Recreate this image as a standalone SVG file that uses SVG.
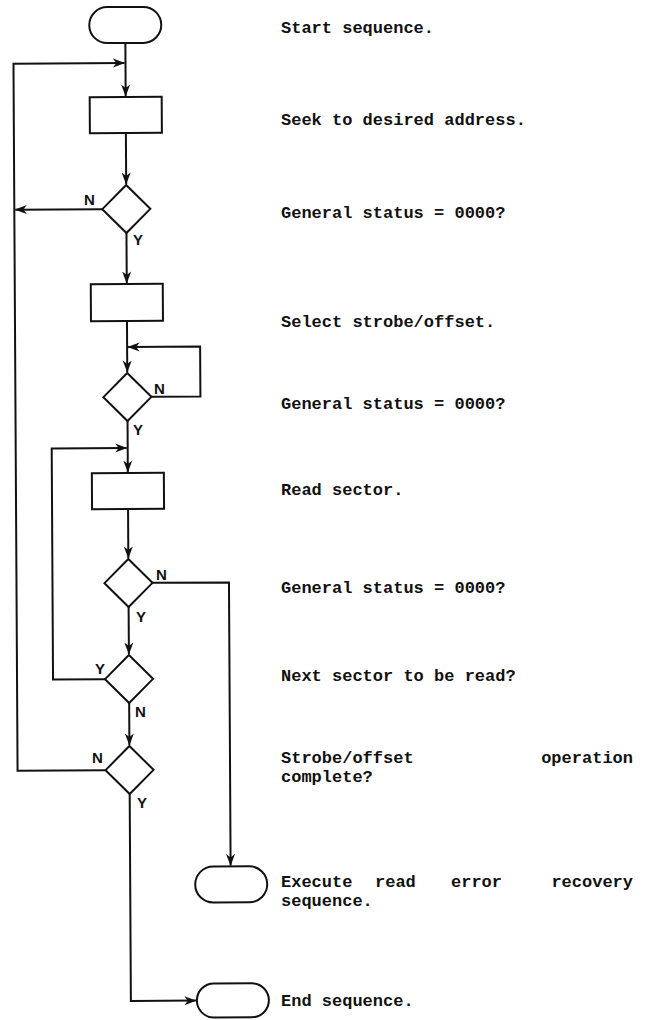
<svg xmlns="http://www.w3.org/2000/svg" width="646" height="1020" viewBox="0 0 646 1020">
<style>
.shape{fill:#fff;stroke:#111;stroke-width:2}
.conn{fill:none;stroke:#111;stroke-width:2}
.desc{font-family:"Liberation Mono","DejaVu Sans Mono",monospace;font-size:17px;font-weight:bold;fill:#111}
.lbl{font-family:"Liberation Sans",Arial,sans-serif;font-size:15px;font-weight:bold;fill:#111}
</style>
<defs>
<marker id="arr" viewBox="0 0 12 10" refX="11.5" refY="5" markerWidth="12" markerHeight="10" markerUnits="userSpaceOnUse" orient="auto">
<path d="M0,0.5 L12,5 L0,9.5 L3.5,5 z" fill="#111"/>
</marker>
</defs>
<rect width="646" height="1020" fill="#fff"/>
<g transform="rotate(-0.33 128 500)">
<g id="connectors" class="conn">
<path d="M128,43 V96" marker-end="url(#arr)"/>
<path d="M128,133 V184" marker-end="url(#arr)"/>
<path d="M104,209 H17" marker-end="url(#arr)"/>
<path d="M128,233 V283" marker-end="url(#arr)"/>
<path d="M128,321 V372" marker-end="url(#arr)"/>
<path d="M152,397 H201 V347 H129" marker-end="url(#arr)"/>
<path d="M128,421 V472" marker-end="url(#arr)"/>
<path d="M128,509 V558" marker-end="url(#arr)"/>
<path d="M152,583 H228.5 V866" marker-end="url(#arr)"/>
<path d="M128,607 V654" marker-end="url(#arr)"/>
<path d="M104,679 H52 V448 H127" marker-end="url(#arr)"/>
<path d="M128,703 V745" marker-end="url(#arr)"/>
<path d="M104,770 H16 V63 H127" marker-end="url(#arr)"/>
<path d="M128,794 V1001 H193" marker-end="url(#arr)"/>
</g>
<g id="start"><rect class="shape" x="92" y="7" width="72" height="36" rx="18"/></g>
<g id="seek"><rect class="shape" x="92" y="97" width="72" height="36"/></g>
<g id="status1"><path class="shape" d="M128,185 L152,209 L128,233 L104,209 Z"/></g>
<g id="select"><rect class="shape" x="92" y="284" width="72" height="37"/></g>
<g id="status2"><path class="shape" d="M128,373 L152,397 L128,421 L104,397 Z"/></g>
<g id="read"><rect class="shape" x="92" y="473" width="72" height="36"/></g>
<g id="status3"><path class="shape" d="M128,559 L152,583 L128,607 L104,583 Z"/></g>
<g id="next"><path class="shape" d="M128,655 L152,679 L128,703 L104,679 Z"/></g>
<g id="complete"><path class="shape" d="M128,746 L152,770 L128,794 L104,770 Z"/></g>
<g id="error"><rect class="shape" x="193" y="867" width="72" height="36" rx="18"/></g>
<g id="end"><rect class="shape" x="194" y="984" width="72" height="34" rx="17"/></g>
</g>
<g id="labels" class="lbl">
<text x="84" y="205">N</text>
<text x="133" y="245">Y</text>
<text x="154" y="394">N</text>
<text x="133" y="435">Y</text>
<text x="156" y="580">N</text>
<text x="136" y="622">Y</text>
<text x="95" y="674">Y</text>
<text x="135" y="717">N</text>
<text x="92" y="763">N</text>
<text x="137" y="808">Y</text>
</g>
<g id="descriptions" class="desc">
<text x="281" y="33">Start sequence.</text>
<text x="281" y="125">Seek to desired address.</text>
<text x="281" y="218">General status = 0000?</text>
<text x="281" y="327">Select strobe/offset.</text>
<text x="281" y="409">General status = 0000?</text>
<text x="281" y="495">Read sector.</text>
<text x="281" y="593">General status = 0000?</text>
<text x="281" y="681">Next sector to be read?</text>
<text x="281" y="763">Strobe/offset</text>
<text x="633" y="763" text-anchor="end">operation</text>
<text x="281" y="782">complete?</text>
<text x="281" y="887">Execute</text>
<text x="375" y="887">read</text>
<text x="451" y="887">error</text>
<text x="633" y="887" text-anchor="end">recovery</text>
<text x="281" y="906">sequence.</text>
<text x="281" y="1006">End sequence.</text>
</g>
</svg>
